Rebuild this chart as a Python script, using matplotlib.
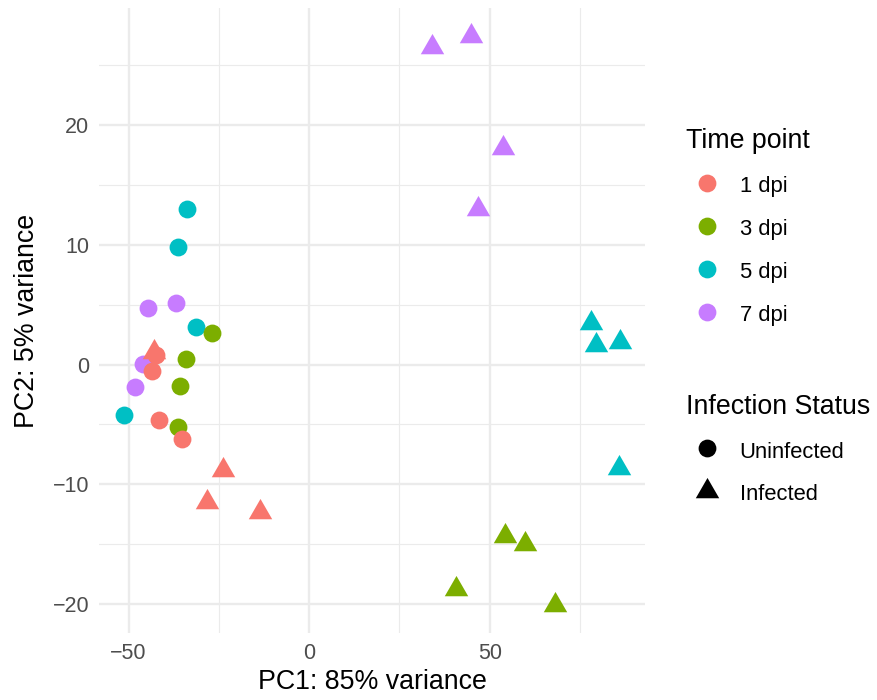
import matplotlib
matplotlib.use("Agg")
import matplotlib.pyplot as plt
from matplotlib.lines import Line2D
from matplotlib.ticker import MultipleLocator

plt.rcParams.update({
    "font.family": "Liberation Sans",
    "axes.spines.top": False,
    "axes.spines.right": False,
    "axes.spines.left": False,
    "axes.spines.bottom": False,
})

# sample PCA coordinates, grouped by time point and infection status
TIMES = ["1 dpi", "3 dpi", "5 dpi", "7 dpi"]
COLORS = {"1 dpi": "#F8766D", "3 dpi": "#7CAE00",
          "5 dpi": "#00BFC4", "7 dpi": "#C77CFF"}
STATUS = ["Uninfected", "Infected"]

time_pt = (["7 dpi"] * 8 + ["5 dpi"] * 8 + ["3 dpi"] * 8 + ["1 dpi"] * 8)
status = (["Uninfected"] * 4 + ["Infected"] * 4) * 4
pc1 = [-44.5, -36.9, -45.9, -48.1, 33.9, 44.9, 53.6, 46.7,
       -33.9, -36.2, -31.3, -51.3, 78.1, 79.4, 86.1, 85.9,
       -27.0, -34.1, -35.8, -36.4, 54.1, 59.7, 40.6, 68.0,
       -42.4, -43.5, -41.5, -35.1, -43.05, -23.8, -28.25, -13.6]
pc2 = [4.73, 5.12, 0.08, -1.84, 26.55, 27.4, 18.12, 12.96,
       13.02, 9.85, 3.12, -4.23, 3.49, 1.60, 1.87, -8.65,
       2.61, 0.50, -1.78, -5.2, -14.34, -14.98, -18.73, -20.04,
       0.78, -0.53, -4.65, -6.2, 1.07, -8.84, -11.51, -12.29]

TRI = [(0, 1), (-0.866, -0.5), (0.866, -0.5)]  # equilateral, centred
MARKERS = {"Uninfected": "o", "Infected": TRI}
SIZES = {"Uninfected": 165, "Infected": 380}

fig = plt.figure(figsize=(8.78, 7.0), dpi=100)
ax = fig.add_axes([99 / 878, 1 - 633 / 700, 546 / 878, 625 / 700])

seen = []
for t, s in zip(time_pt, status):
    if (t, s) in seen:
        continue
    seen.append((t, s))
    idx = [i for i in range(len(pc1)) if time_pt[i] == t and status[i] == s]
    ax.scatter([pc1[i] for i in idx], [pc2[i] for i in idx],
               marker=MARKERS[s], s=SIZES[s], color=COLORS[t],
               linewidths=0, zorder=3)

ax.margins(0.05)
ax.xaxis.set_major_locator(MultipleLocator(50))
ax.xaxis.set_minor_locator(MultipleLocator(25))
ax.yaxis.set_major_locator(MultipleLocator(10))
ax.yaxis.set_minor_locator(MultipleLocator(5))
ax.grid(True, which="major", color="#EBEBEB", lw=1.7, zorder=0)
ax.grid(True, which="minor", color="#EBEBEB", lw=0.85, zorder=0)
ax.set_axisbelow(True)
ax.tick_params(which="both", length=0, labelsize=15.5,
               labelcolor="#4D4D4D", pad=7)
ax.set_xlabel("PC1: 85% variance", fontsize=19.3, labelpad=4)
ax.set_ylabel("PC2: 5% variance", fontsize=19.3, labelpad=9)

time_handles = [Line2D([], [], ls="", marker="o", markersize=12.8,
                       markerfacecolor=COLORS[t], markeredgewidth=0)
                for t in TIMES]
status_handles = [Line2D([], [], ls="", marker=MARKERS[s],
                         markersize=12.8 if s == "Uninfected" else 19.5,
                         markerfacecolor="black", markeredgewidth=0)
                  for s in STATUS]

common = dict(loc="upper left", frameon=False, fontsize=15.8,
              title_fontsize=19.3, alignment="left", borderpad=0,
              borderaxespad=0, handlelength=1.89, handleheight=1.2,
              handletextpad=0.55)
fig.legend(time_handles, TIMES, title="Time point", labelspacing=0.875,
           bbox_to_anchor=(686 / 878, 1 - 128.5 / 700), **common)
fig.legend(status_handles, STATUS, title="Infection Status",
           labelspacing=0.85,
           bbox_to_anchor=(686 / 878, 1 - 394.5 / 700), **common)

fig.savefig("out.png", dpi=100)
